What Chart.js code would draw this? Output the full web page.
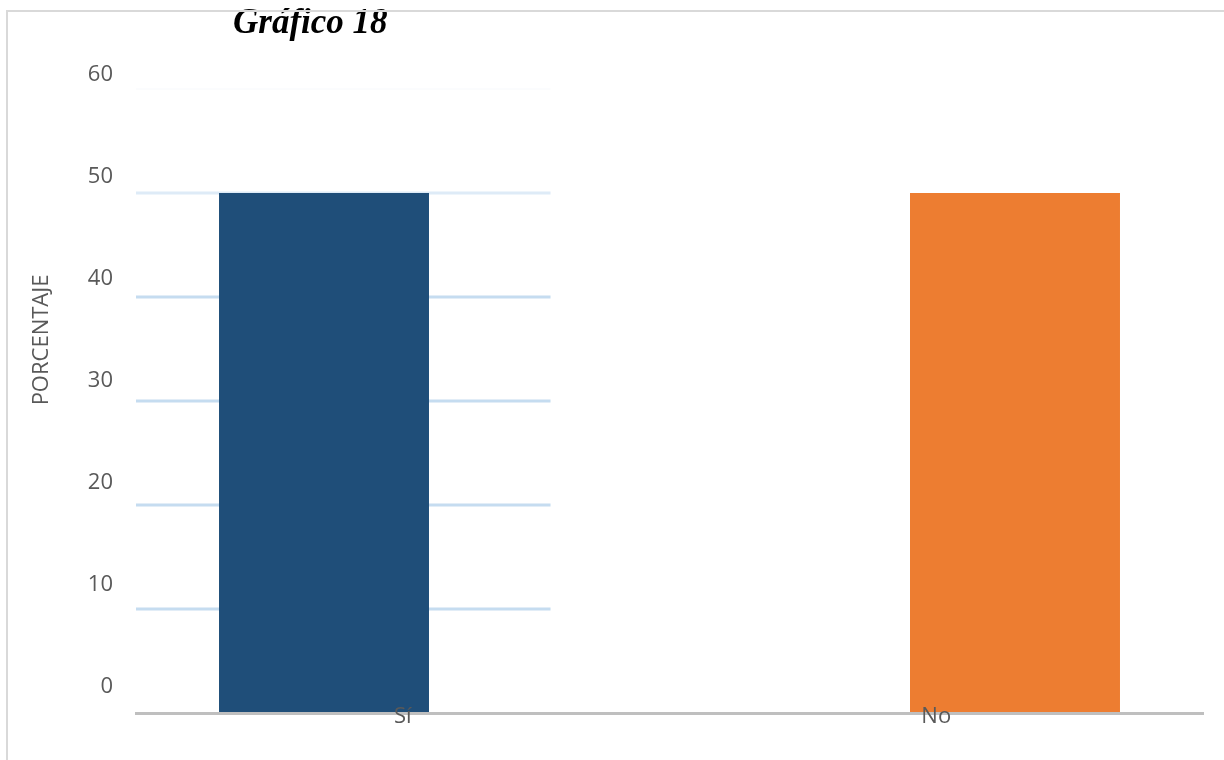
<!DOCTYPE html>
<html>
<head>
<meta charset="utf-8">
<script src="https://cdn.jsdelivr.net/npm/chart.js@4"></script>
<style>
  html, body { margin: 0; padding: 0; background: #fff; }
  #wrap { position: relative; width: 1224px; height: 760px; overflow: hidden; }
  #frame { position: absolute; left: 6px; top: 10px; right: -4px; bottom: -4px;
           border-left: 2px solid #D9D9D9; border-top: 2px solid #D9D9D9; pointer-events: none; }
</style>
</head>
<body>
<div id="wrap">
  <canvas id="c" width="1224" height="760"></canvas>
  <div id="frame"></div>
</div>
<script>
// ---- data ----
const categories = ['Sí', 'No'];
const siValues = [50, null];
const noValues = [null, 50];
const yTickValues = [0, 10, 20, 30, 40, 50, 60];
const titleText = 'Gráfico 18';
const yAxisTitle = 'PORCENTAJE';

// gridline styles per tick value (only the left part of the plot shows them)
const gridStyles = {
  10: ['#C5DCF0', 3], 20: ['#C5DCF0', 3], 30: ['#C5DCF0', 3], 40: ['#C5DCF0', 3],
  50: ['#DEEBF7', 3], 60: ['#F7F9FC', 1]
};

const decorPlugin = {
  id: 'decor',
  beforeDatasetsDraw(chart) {
    const ctx = chart.ctx, y = chart.scales.y, area = chart.chartArea;
    ctx.save();
    yTickValues.forEach(v => {
      const st = gridStyles[v];
      if (!st) return;
      const py = y.getPixelForValue(v);
      ctx.strokeStyle = st[0];
      ctx.lineWidth = st[1];
      ctx.beginPath();
      ctx.moveTo(area.left, py);
      ctx.lineTo(area.left + (area.right - area.left) * 0.3885, py);
      ctx.stroke();
    });
    ctx.restore();
  },
  afterDraw(chart) {
    const ctx = chart.ctx, x = chart.scales.x;
    ctx.save();
    // category labels, drawn over the axis line like the original
    ctx.fillStyle = '#595959';
    ctx.font = '22px "Open Sans"';
    ctx.textAlign = 'center';
    ctx.textBaseline = 'alphabetic';
    categories.forEach((c, i) => {
      ctx.fillText(c, x.getPixelForValue(i), chart.chartArea.bottom + 10);
    });
    // title
    ctx.fillStyle = '#000';
    ctx.font = 'italic bold 35px "Liberation Serif"';
    ctx.textAlign = 'left';
    ctx.fillText(titleText, 233, 33);
    // y axis title
    ctx.translate(42, 340);
    ctx.rotate(-Math.PI / 2);
    ctx.fillStyle = '#595959';
    ctx.font = '22px "Open Sans"';
    ctx.textAlign = 'center';
    ctx.textBaseline = 'middle';
    ctx.fillText(yAxisTitle, 0, 0);
    ctx.restore();
  }
};

new Chart(document.getElementById('c'), {
  type: 'bar',
  data: {
    labels: categories,
    datasets: [
      { label: 'Sí', data: siValues, backgroundColor: '#1F4E79', borderWidth: 0 },
      { label: 'No', data: noValues, backgroundColor: '#ED7D31', borderWidth: 0 }
    ]
  },
  options: {
    responsive: false,
    animation: false,
    devicePixelRatio: 1,
    categoryPercentage: 0.5904,
    barPercentage: 1.3333,
    layout: { padding: { top: 89, right: 21, left: 0, bottom: 0 } },
    plugins: { legend: { display: false }, tooltip: { enabled: false }, title: { display: false } },
    scales: {
      x: {
        offset: true,
        grid: { display: false, drawTicks: false },
        border: { display: true, color: '#BFBFBF', width: 3, z: 1 },
        ticks: { display: false },
        afterFit: s => { s.height = 47; }
      },
      y: {
        display: false,
        min: 0, max: 60
      },
      yl: {
        position: 'left',
        min: -2.598, max: 58.578,
        grid: { display: false, drawTicks: false },
        border: { display: false },
        ticks: { color: '#595959', font: { family: 'Open Sans', size: 22 }, padding: 23 },
        afterBuildTicks: s => { s.ticks = yTickValues.map(v => ({ value: v })); },
        afterFit: s => { s.width = 136; }
      }
    }
  },
  plugins: [decorPlugin]
});
</script>
</body>
</html>
